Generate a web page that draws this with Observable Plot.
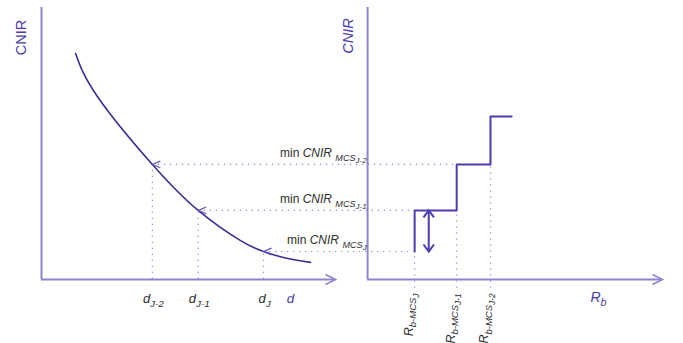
<!DOCTYPE html>
<html><head><meta charset="utf-8">
<script src="https://cdn.jsdelivr.net/npm/d3@7"></script>
<script src="https://cdn.jsdelivr.net/npm/@observablehq/plot@0.6"></script>
<style>
html,body{margin:0;padding:0;background:#fff;}
#chart svg{display:block;overflow:visible;}
#chart text,#chart tspan{white-space:pre;}
</style></head>
<body><div id="chart"></div>
<script>
// ---------------- data ----------------
// left panel: CNIR as a function of distance d
const curveD    = [1.16, 1.90, 3.77, 5.33, 6.77, 7.55, 8.23, 9.15];
const curveCNIR = [8.31, 6.73, 4.23, 2.54, 1.43, 1.03, 0.81, 0.63];
// MCS indices, from highest to lowest CNIR threshold
const mcsNames  = ["J-2", "J-1", "J"];
const dTicks    = [3.77, 5.33, 7.55];   // d_{J-2}, d_{J-1}, d_J
const minCNIR   = [4.23, 2.54, 1.03];   // min CNIR_{MCS_j}
const rbTicks   = [4.18, 3.03, 1.60];   // R_{b-MCS_j}
const stepTopCNIR = 5.99;
const stepEndRb   = 4.90;
const marginRb    = 2.08;               // double arrow (margin) location on R_b
// text
const dTickLabels = mcsNames.map(n => `*d*_{*${n}*}`);
const minLabels   = mcsNames.map(n => `min *CNIR* _{*MCS*_{*${n}*}}`);
const rbLabels    = mcsNames.map(n => `*R*_{*b-MCS*_{*${n}*}}`);
const leftYLabel  = "CNIR";
const rightYLabel = "*CNIR*";
const leftXLabel  = "*d*";
const rightXLabel = "*R*_{*b*}";

// ---------------- layout (shared horizontal units) ----------------
const RB0 = 11.09;        // origin of the right (R_b) panel
const AXIS_LEN = 10;      // length of each horizontal axis
const RIGHT_AXIS_LEN = 10.03;
const X_MAX = 21.12, Y_MAX = 10;

const axisColor = "#8d84cf", curveColor = "#3a2e94", stepColor = "#4a3db0";
const dotColor = "#958cdc", purpleText = "#4b3ca6", grayText = "#2e2e2e";

const chevron = (dir, aspect) => ({
  draw(ctx, size) {
    const r = Math.sqrt(size / Math.PI), h = r * aspect;
    const pts = {left: [[r,-h],[r,h]], right: [[-r,-h],[-r,h]], up: [[-h,r],[h,r]], down: [[-h,-r],[h,-r]]}[dir];
    ctx.moveTo(pts[0][0], pts[0][1]); ctx.lineTo(0, 0); ctx.lineTo(pts[1][0], pts[1][1]);
  }
});

const idx = [0, 1, 2];
const curvePts = curveD.map((d, i) => ({d, c: curveCNIR[i]}));
const stepPts = [
  ...[2, 1, 0].map(i => ({rb: rbTicks[i], c: minCNIR[i]})),
  {rb: stepEndRb, c: stepTopCNIR}
];
const axisEnds = [{x: AXIS_LEN}, {x: RB0 + RIGHT_AXIS_LEN}];

const plot = Plot.plot({
  width: 683, height: 343,
  marginLeft: 41, marginRight: 21, marginTop: 7, marginBottom: 64,
  x: {domain: [0, X_MAX], axis: null},
  y: {domain: [0, Y_MAX], axis: null},
  style: {fontFamily: "'Liberation Sans', Arial, sans-serif", background: "white", overflow: "visible"},
  marks: [
    // dotted guides
    Plot.ruleX(idx, {x: i => dTicks[i], y1: 0, y2: i => minCNIR[i], stroke: dotColor, strokeWidth: 1.2, strokeDasharray: "1.3,4.7"}),
    Plot.ruleY(idx, {y: i => minCNIR[i], x1: i => dTicks[i], x2: i => RB0 + rbTicks[Math.min(i + 1, 2)], stroke: dotColor, strokeWidth: 1.2, strokeDasharray: "1.3,4.7"}),
    Plot.ruleX(idx, {x: i => RB0 + rbTicks[i], y1: -0.32, y2: i => minCNIR[i], stroke: dotColor, strokeWidth: 1.2, strokeDasharray: "1.3,4.7"}),
    // axes
    Plot.ruleX([0, RB0], {x: d => d, y1: 0, y2: Y_MAX, stroke: axisColor, strokeWidth: 2}),
    Plot.ruleY([{a: 0, b: AXIS_LEN}, {a: RB0, b: RB0 + RIGHT_AXIS_LEN}], {y: () => 0, x1: "a", x2: "b", stroke: axisColor, strokeWidth: 2}),
    Plot.dot(axisEnds, {x: "x", y: () => 0, symbol: chevron("right", 0.5), r: 10, stroke: axisColor, fill: "none", strokeWidth: 1.6}),
    // curve
    Plot.line(curvePts, {x: "d", y: "c", curve: "natural", stroke: curveColor, strokeWidth: 1.6}),
    Plot.dot(idx, {x: i => dTicks[i], y: i => minCNIR[i], symbol: chevron("left", 0.42), r: 8, stroke: "#5f54bd", fill: "none", strokeWidth: 1.2}),
    // step function
    Plot.line(stepPts, {x: p => RB0 + p.rb, y: "c", curve: "step-before", stroke: stepColor, strokeWidth: 2}),
    // double arrow
    Plot.ruleX([marginRb], {x: v => RB0 + v, y1: minCNIR[2], y2: minCNIR[1], stroke: stepColor, strokeWidth: 2}),
    Plot.dot([marginRb], {x: v => RB0 + v, y: () => minCNIR[1], symbol: chevron("up", 0.75), r: 7, stroke: stepColor, fill: "none", strokeWidth: 2}),
    Plot.dot([marginRb], {x: v => RB0 + v, y: () => minCNIR[2], symbol: chevron("down", 0.75), r: 7, stroke: stepColor, fill: "none", strokeWidth: 2}),
    // texts
    Plot.text([leftYLabel], {x: () => 0, y: () => 8.9, text: d => d, rotate: -90, dx: -20, fontSize: 14.5, fill: purpleText}),
    Plot.text([rightYLabel], {x: () => RB0, y: () => 8.95, text: d => d, rotate: -90, dx: -19, fontSize: 14.5, fill: purpleText}),
    Plot.text(idx, {x: i => dTicks[i], y: () => 0, text: i => dTickLabels[i], dy: 19.5, dx: 1, fontSize: 13, fill: grayText}),
    Plot.text([leftXLabel], {x: () => 8.47, y: () => 0, text: d => d, dy: 19.5, fontSize: 13.5, fill: purpleText}),
    Plot.text(idx, {x: () => RB0, y: i => minCNIR[i], text: i => minLabels[i], textAnchor: "end", dx: -1, dy: -11, fontSize: 12, fill: grayText}),
    Plot.text(idx, {x: i => RB0 + rbTicks[i], y: () => 0, text: i => rbLabels[i], rotate: -90, textAnchor: "end", dx: -6, dy: 14, fontSize: 12.5, fill: grayText}),
    Plot.text([rightXLabel], {x: () => RB0 + 7.85, y: () => 0, text: d => d, dy: 18, fontSize: 14, fill: purpleText})
  ]
});

document.getElementById("chart").append(plot);

// convert the tiny markup (*italic*, _{subscript}) into SVG tspans
function richText(el) {
  const src = el.textContent;
  if (!/[_*]/.test(src)) return;
  const base = parseFloat(getComputedStyle(el).fontSize);
  const segs = []; let level = 0, italic = false, buf = "";
  const flush = () => { if (buf) segs.push({t: buf, level, italic}); buf = ""; };
  for (let i = 0; i < src.length; i++) {
    const ch = src[i];
    if (ch === "*") { flush(); italic = !italic; }
    else if (ch === "_" && src[i + 1] === "{") { flush(); level++; i++; }
    else if (ch === "}") { flush(); level--; }
    else buf += ch;
  }
  flush();
  const scales = [1, 0.76, 0.66];
  const sizeAt = l => base * scales[Math.min(l, 2)];
  const shiftAt = l => { let s = 0; for (let k = 1; k <= l; k++) s += 0.28 * sizeAt(k - 1); return s; };
  while (el.firstChild) el.removeChild(el.firstChild);
  let prev = 0;
  for (const s of segs) {
    const ts = document.createElementNS("http://www.w3.org/2000/svg", "tspan");
    ts.textContent = s.t;
    ts.setAttribute("font-size", sizeAt(s.level).toFixed(2));
    ts.setAttribute("font-style", s.italic ? "italic" : "normal");
    const sh = shiftAt(s.level);
    if (Math.abs(sh - prev) > 1e-6) ts.setAttribute("dy", (sh - prev).toFixed(2));
    prev = sh;
    el.appendChild(ts);
  }
}
plot.querySelectorAll("text").forEach(richText);
</script>
</body></html>
